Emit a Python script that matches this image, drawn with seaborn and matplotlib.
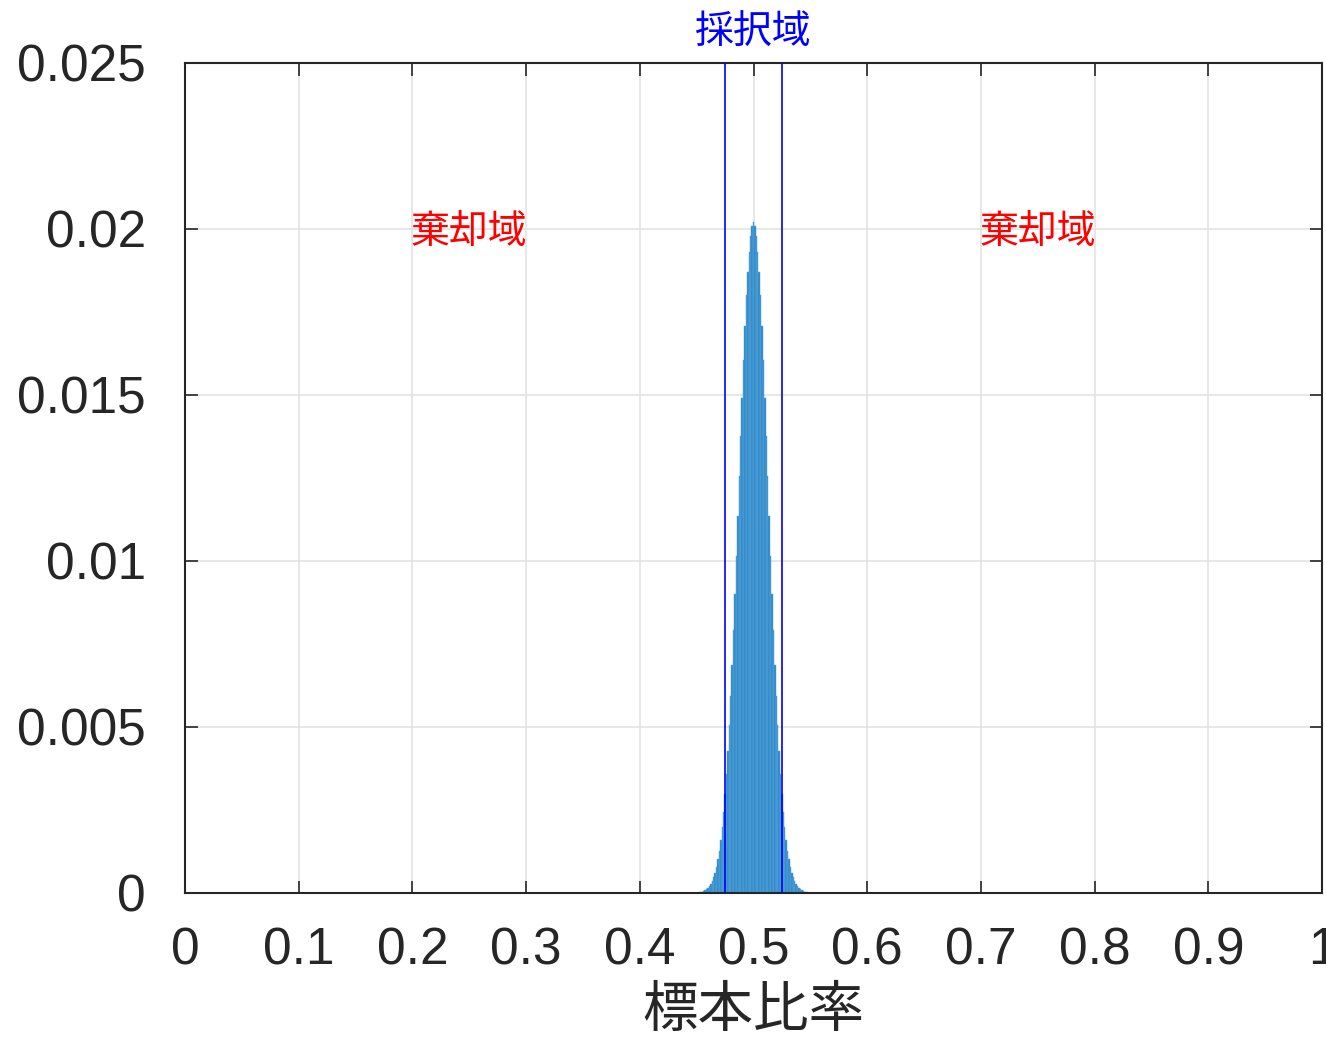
import numpy as np
import matplotlib
matplotlib.use("Agg")
import matplotlib.pyplot as plt
import seaborn as sns

# Sample proportion grid (bar centres) and probability
prop_start = 0.45125
prop_step = 0.00125
half = [0.00001, 0.00002, 0.00003, 0.00004, 0.00006, 0.00008, 0.00011, 0.00015,
        0.00020, 0.00027, 0.00036, 0.00047, 0.00061, 0.00079, 0.00101, 0.00127,
        0.00160, 0.00198, 0.00244, 0.00297, 0.00358, 0.00428, 0.00506, 0.00593,
        0.00688, 0.00792, 0.00901, 0.01016, 0.01135, 0.01255, 0.01376, 0.01492,
        0.01604, 0.01707, 0.01800, 0.01870, 0.01930, 0.01980, 0.02010]
peak = 0.0202
probs = half + [peak] + half[::-1]
props = list(np.round(prop_start + prop_step * np.arange(len(probs)), 5))

accept_low = 0.475
accept_high = 0.525
xticks = [0, 0.1, 0.2, 0.3, 0.4, 0.5, 0.6, 0.7, 0.8, 0.9, 1]
xtick_labels = ["0", "0.1", "0.2", "0.3", "0.4", "0.5", "0.6", "0.7", "0.8", "0.9", "1"]
yticks = [0, 0.005, 0.01, 0.015, 0.02, 0.025]
ytick_labels = ["0", "0.005", "0.01", "0.015", "0.02", "0.025"]
xlabel = "標本比率"
reject_label = "棄却域"
accept_label = "採択域"

sns.set_style("ticks")
plt.rcParams['font.family'] = ['Liberation Sans', 'Noto Sans CJK JP', 'DejaVu Sans']
cjk = ['Noto Sans CJK JP', 'DejaVu Sans']
txt = '#262626'

fig = plt.figure(figsize=(13.26, 10.40), dpi=100)
ax = fig.add_axes([185/1326, 1 - 893/1040, (1322-185)/1326, (893-63)/1040])

sns.barplot(x=props, y=probs, native_scale=True, width=1.0, color='#2b86c6',
            saturation=1, edgecolor='#5aa6db', linewidth=0.35, errorbar=None, ax=ax)

ax.axvline(accept_low, color='#0000ff', lw=1.2, zorder=5)
ax.axvline(accept_high, color='#0000ff', lw=1.2, zorder=5)

ax.set_xlim(0, 1)
ax.set_ylim(0, 0.025)
ax.set_xticks(xticks)
ax.set_xticklabels(xtick_labels)
ax.set_yticks(yticks)
ax.set_yticklabels(ytick_labels)
ax.grid(True, color='#e3e3e3', lw=1.2, zorder=0)
ax.set_axisbelow(True)
ax.tick_params(direction='in', length=9, width=1.2, colors=txt, labelsize=37,
               top=True, right=True)
ax.tick_params(axis='x', pad=24)
ax.tick_params(axis='y', pad=28)
for s in ax.spines.values():
    s.set_visible(True)
    s.set_color(txt)
    s.set_linewidth(1.5)

ax.set_xlabel(xlabel, family=cjk, fontsize=40, color=txt, labelpad=5)
ax.set_ylabel("")

ax.text(0.25, 0.0199, reject_label, family=cjk, fontsize=28, color='#ff0000',
        ha='center', va='center')
ax.text(0.75, 0.0199, reject_label, family=cjk, fontsize=28, color='#ff0000',
        ha='center', va='center')
ax.text(0.5, 0.0259, accept_label, family=cjk, fontsize=28, color='#0000ff',
        ha='center', va='center', clip_on=False)

fig.savefig("out.png", dpi=100)
